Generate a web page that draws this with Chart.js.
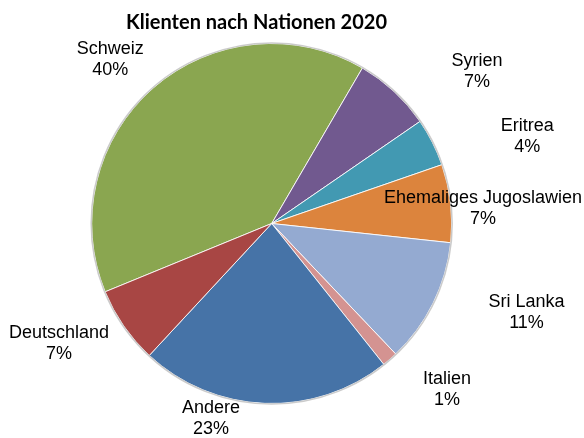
<!DOCTYPE html>
<html>
<head>
<meta charset="utf-8">
<script src="https://cdn.jsdelivr.net/npm/chart.js@4"></script>
<style>
  html, body { margin: 0; padding: 0; background: #fff; }
  #wrap { width: 584px; height: 438px; }
</style>
</head>
<body>
<div id="wrap"><canvas id="mycanvas" width="584" height="438"></canvas></div>
<script>
var chartTitle = "Klienten nach Nationen 2020";
var nationen = ["Schweiz", "Syrien", "Eritrea", "Ehemaliges Jugoslawien", "Sri Lanka", "Italien", "Andere", "Deutschland"];
var anteile = [39.6, 7.0, 4.3, 7.0, 11.2, 1.4, 22.6, 6.9];
var farben = ["#8aa650", "#71598f", "#4299b2", "#dc843d", "#94aad1", "#d49391", "#4673a7", "#a84644"];

// label placement: angle shift (deg) from slice middle, distance in radii
var labelShift = [-3.5, 10.6, 8, 2.3, -7, -5.5, 15.1, 5.3];
var labelDist = [1.28, 1.42, 1.50, 1.177, 1.50, 1.343, 1.134, 1.357];

var total = anteile.reduce(function(a, b){ return a + b; }, 0);

var pieLabels = {
  id: "pieLabels",
  afterDatasetsDraw: function(chart) {
    var ctx = chart.ctx;
    var meta = chart.getDatasetMeta(0);
    var first = meta.data[0];

    // light outer rim
    ctx.save();
    ctx.beginPath();
    ctx.arc(first.x, first.y, first.outerRadius + 0.5, 0, Math.PI * 2);
    ctx.strokeStyle = "rgba(190,190,190,0.8)";
    ctx.lineWidth = 1.5;
    ctx.stroke();
    ctx.restore();

    ctx.save();
    ctx.fillStyle = "#000";
    ctx.textAlign = "center";
    ctx.textBaseline = "middle";
    ctx.font = "bold 20px Lato";
    ctx.fillText(chartTitle, 256.5, 22.5);

    ctx.font = "18px 'Liberation Sans', Arial";
    meta.data.forEach(function(arc, i) {
      var mid = (arc.startAngle + arc.endAngle) / 2 + labelShift[i] * Math.PI / 180;
      var r = arc.outerRadius * labelDist[i];
      var x = arc.x + Math.cos(mid) * r;
      var y = arc.y + Math.sin(mid) * r;
      var pct = Math.round(anteile[i] / total * 100) + "%";
      ctx.fillText(nationen[i], x, y - 10.5);
      ctx.fillText(pct, x, y + 10.5);
    });
    ctx.restore();
  }
};

var ctx = document.getElementById("mycanvas");

var PieGraph = new Chart(ctx, {
  type: "pie",
  data: {
    labels: nationen,
    datasets: [
      {
        data: anteile,
        backgroundColor: farben,
        borderColor: "rgba(255,255,255,0.85)",
        borderWidth: 1
      }
    ]
  },
  options: {
    responsive: false,
    animation: { duration: 0 },
    rotation: -112.3,
    layout: {
      padding: { top: 43, bottom: 34, left: 60, right: 100.6 }
    },
    plugins: {
      legend: { display: false },
      tooltip: { enabled: false },
      title: { display: false }
    }
  },
  plugins: [pieLabels]
});
</script>
</body>
</html>
